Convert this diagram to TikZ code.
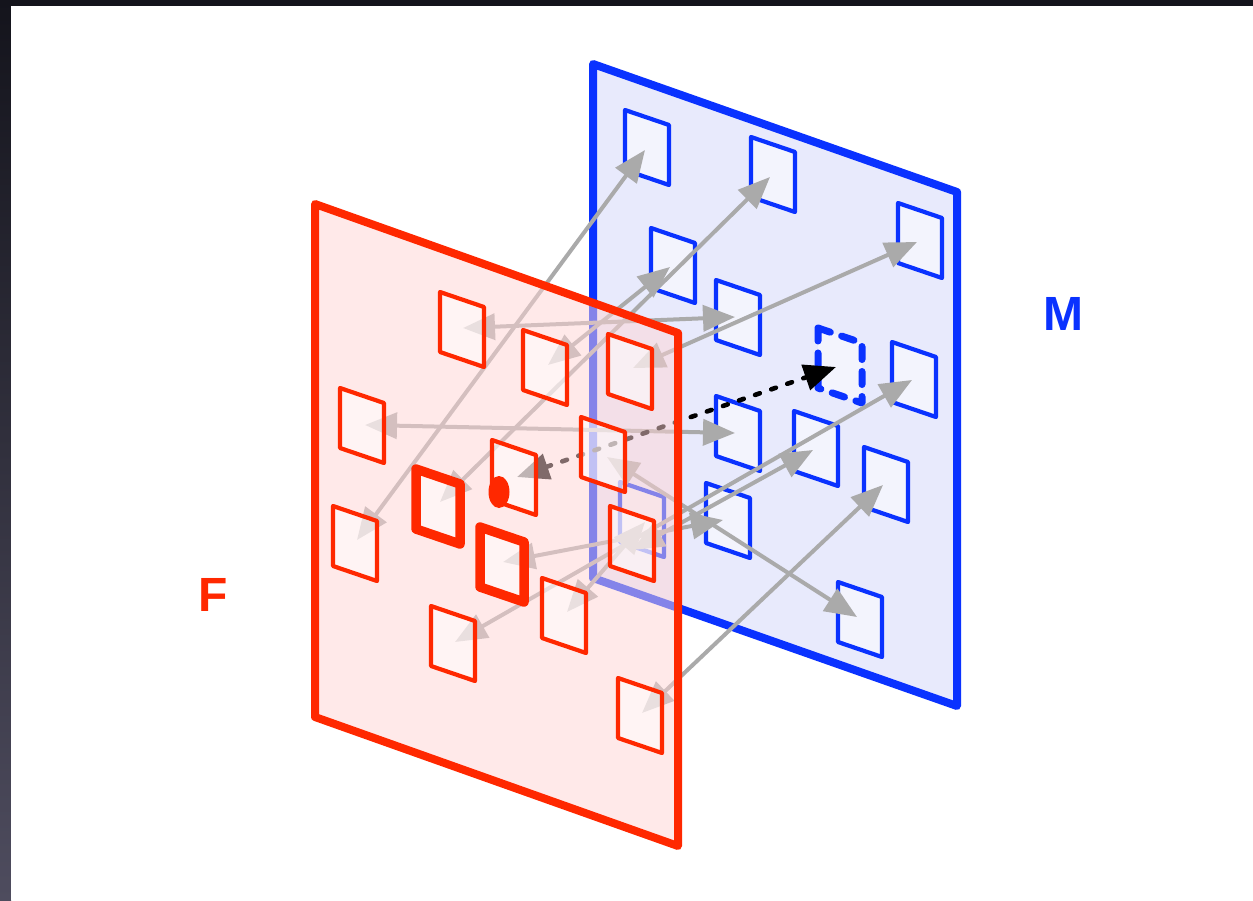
\documentclass[tikz,border=0pt]{standalone}
\usepackage{fontspec}
\setsansfont{Liberation Sans}
\usetikzlibrary{arrows.meta}
\definecolor{fred}{RGB}{255,40,0}
\definecolor{mblue}{RGB}{10,50,255}
\definecolor{mfill}{RGB}{232,234,252}
\definecolor{sqfill}{RGB}{243,244,253}
\definecolor{ffill}{RGB}{255,213,213}
\definecolor{arrgray}{RGB}{170,170,170}
\definecolor{bgtop}{RGB}{20,20,28}
\definecolor{bgbot}{RGB}{78,76,94}
\tikzset{
  sq/.pic={\path[pic actions] (0,0) -- (44,15) -- (44,75) -- (0,60) -- cycle;},
  bsq/.style={draw=mblue, fill=sqfill, line width=4.2pt},
  bdash/.style={draw=mblue, fill=sqfill, line width=7pt, line cap=round, dash pattern=on 13pt off 12pt},
  rsq/.style={draw=fred, fill=white, fill opacity=0.5, draw opacity=1, line width=4.2pt},
  rthick/.style={draw=fred, fill=white, fill opacity=0.5, draw opacity=1, line width=9.5pt},
  corr/.style={draw=arrgray, line width=4pt, {Triangle[length=32pt,width=26pt]}-{Triangle[length=32pt,width=26pt]}},
  dotcorr/.style={draw=black, line width=4.6pt, line cap=round, dash pattern=on 5pt off 12pt, {Triangle[length=32pt,width=26pt]}-{Triangle[length=32pt,width=26pt]}},
  lbl/.style={font=\sffamily\bfseries}
}
\begin{document}
\begin{tikzpicture}[x=1pt,y=-1pt,line join=round]
\useasboundingbox (0,0) rectangle (1253,900);
% background frame
\fill[bgtop] (0,0) rectangle (1253,900);
\shade[top color=bgtop,bottom color=bgbot] (0,0) rectangle (11,900);
\fill[white] (11,6) rectangle (1253,900);

% moving panel M
\filldraw[draw=mblue, fill=mfill, line width=8pt] (593,64) -- (957,192) -- (957,706) -- (593,578) -- cycle;
\pic[bsq] at (625,110) {sq};
\pic[bsq] at (751,137) {sq};
\pic[bsq] at (898,203) {sq};
\pic[bsq] at (651,228) {sq};
\pic[bsq] at (716,280) {sq};
\pic[bdash] at (818,328) {sq};
\pic[bsq] at (892,342) {sq};
\pic[bsq] at (716,396) {sq};
\pic[bsq] at (794,411) {sq};
\pic[bsq] at (864,447) {sq};
\pic[bsq] at (706,483) {sq};
\pic[bsq] at (620,482) {sq};
\pic[bsq] at (838,582) {sq};

% arrow end points
\coordinate (r1) at (463,328);  \coordinate (b5) at (735,317);
\coordinate (r2) at (548,365);  \coordinate (b4) at (670,267);
\coordinate (r3) at (633,368);  \coordinate (b3) at (917,242);
\coordinate (r4) at (365,425);  \coordinate (b8) at (735,433);
\coordinate (r5) at (607,457);  \coordinate (b13) at (857,617);
\coordinate (r6) at (517,477);  \coordinate (b6) at (836,367);
\coordinate (r7) at (440,502);  \coordinate (b2) at (770,177);
\coordinate (r8) at (503,562);  \coordinate (b11) at (723,520);
\coordinate (r9) at (357,540);  \coordinate (b1) at (645,150);
\coordinate (r10) at (632,550); \coordinate (b9) at (813,450);
\coordinate (r11) at (567,612); \coordinate (b12) at (645,522);
\coordinate (r12) at (455,642); \coordinate (b7) at (912,380);
\coordinate (r13) at (642,713); \coordinate (b10) at (883,485);

% correspondences
\draw[corr] (r9) -- (b1);
\draw[corr] (r7) -- (b2);
\draw[corr] (r3) -- (b3);
\draw[corr] (r2) -- (b4);
\draw[corr] (r1) -- (b5);
\draw[corr] (r4) -- (b8);
\draw[corr] (r13) -- (b10);
\draw[corr] (r5) -- (b13);
\draw[corr] (r12) -- (b7);
\draw[corr] (r8) -- (b11);
\draw[corr] (r10) -- (b9);
\draw[corr] (r11) -- (b12);
\draw[dotcorr] (r6) -- (b6);

% fixed panel F
\filldraw[draw=fred, fill=ffill, fill opacity=0.5, draw opacity=1, line width=8pt] (315,204) -- (678,333) -- (678,846) -- (315,717) -- cycle;
\pic[rsq] at (440,292) {sq};
\pic[rsq] at (523,330) {sq};
\pic[rsq] at (608,334) {sq};
\pic[rsq] at (340,388) {sq};
\pic[rsq] at (581,417) {sq};
\pic[rsq] at (492,440) {sq};
\pic[rthick] at (416,469) {sq};
\pic[rthick] at (480,527) {sq};
\pic[rsq] at (333,506) {sq};
\pic[rsq] at (610,506) {sq};
\pic[rsq] at (542,578) {sq};
\pic[rsq] at (431,606) {sq};
\pic[rsq] at (618,678) {sq};

% red point
\fill[fred] (499,492) ellipse [x radius=10.5, y radius=16];

% labels
\node[lbl, text=fred, font=\sffamily\bfseries\fontsize{48}{48}\selectfont] (F) at (213,595) {F};
\node[lbl, text=mblue, font=\sffamily\bfseries\fontsize{48}{48}\selectfont] (M) at (1063,314) {M};
\end{tikzpicture}
\end{document}
